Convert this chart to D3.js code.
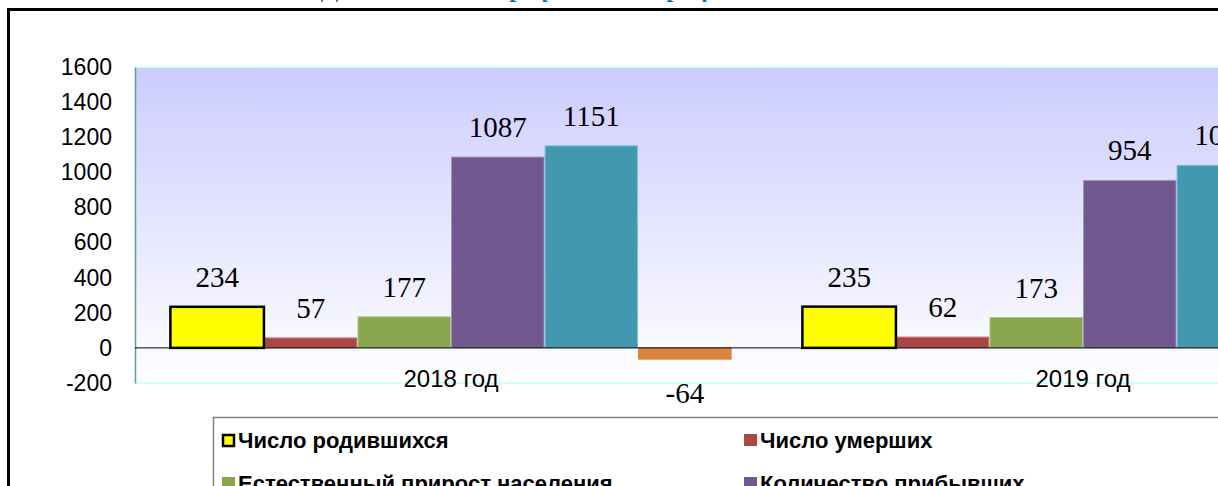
<!DOCTYPE html>
<html>
<head>
<meta charset="utf-8">
<script src="https://cdn.jsdelivr.net/npm/d3@7"></script>
<style>
  html, body { margin: 0; padding: 0; background: #fff; overflow: hidden; }
</style>
</head>
<body>
<div id="chart"></div>
<script>
const width = 1218;
const height = 486;

const years = ['2018 год', '2019 год'];
const seriesNames = [
  'Число родившихся',
  'Число умерших',
  'Естественный прирост населения',
  'Количество прибывших',
  'Количество выбывших',
  'Миграционный прирост'
];
const births = [234, 235];
const deaths = [57, 62];
const naturalGrowth = [177, 173];
const arrived = [1087, 954];
const departed = [1151, 1040];
const migration = [-64, -86];
const yTicks = [-200, 0, 200, 400, 600, 800, 1000, 1200, 1400, 1600];

const series = [births, deaths, naturalGrowth, arrived, departed, migration];
const fills = ['#ffff00', '#aa4643', '#89a54e', '#71588f', '#4198af', '#db843d'];
const strokes = ['#000000', '#c98a88', '#b2c78f', '#a592bd', '#86c1d1', '#db843d'];

const plotLeft = 135;
const plotTop = 67;
const plotBottom = 383;

const svg = d3.select('#chart')
  .append('svg')
    .attr('width', width)
    .attr('height', height);

const defs = svg.append('defs');
const grad = defs.append('linearGradient')
  .attr('id', 'bg')
  .attr('x1', 0).attr('y1', 0).attr('x2', 0).attr('y2', 1);
grad.append('stop').attr('offset', '0%').attr('stop-color', '#ccccff');
grad.append('stop').attr('offset', '100%').attr('stop-color', '#ffffff');

// title, mostly cut off at the top
svg.append('text')
  .attr('x', 545)
  .attr('y', -3)
  .attr('text-anchor', 'middle')
  .style('font-family', '"Liberation Serif", "Times New Roman", serif')
  .style('font-weight', 'bold')
  .style('font-style', 'italic')
  .style('font-size', '26px')
  .style('fill', '#0070c0')
  .text('Динамика демографических процессов');

// outer frame
svg.append('rect')
  .attr('x', 8.5).attr('y', 9.5)
  .attr('width', 1400).attr('height', 700)
  .attr('fill', '#fff')
  .attr('stroke', '#000')
  .attr('stroke-width', 3);

const y = d3.scaleLinear().domain([-200, 1600]).range([plotBottom, plotTop]);

const x0 = d3.scaleBand()
  .domain(years)
  .range([plotLeft, plotLeft + 1264])
  .paddingInner(0.112)
  .paddingOuter(0.056);

const x1 = d3.scaleBand()
  .domain(d3.range(series.length))
  .range([0, x0.bandwidth()]);

// plot area
svg.append('rect')
  .attr('x', plotLeft).attr('y', plotTop)
  .attr('width', width - plotLeft + 10).attr('height', plotBottom - plotTop)
  .attr('fill', 'url(#bg)');

svg.append('line')
  .attr('x1', plotLeft).attr('x2', width)
  .attr('y1', plotTop).attr('y2', plotTop)
  .attr('stroke', '#ccffff').attr('stroke-width', 2);
svg.append('line')
  .attr('x1', plotLeft).attr('x2', width)
  .attr('y1', plotBottom).attr('y2', plotBottom)
  .attr('stroke', '#ccffff').attr('stroke-width', 2);

// y axis
const axisLeft = d3.axisLeft(y)
  .tickValues(yTicks)
  .tickFormat(d => String(d))
  .tickSize(0)
  .tickPadding(23);
const yAxis = svg.append('g')
  .attr('transform', `translate(${plotLeft}, 0)`)
  .call(axisLeft);
yAxis.select('.domain').attr('stroke', '#5f9ea0').attr('stroke-width', 1.5);
yAxis.selectAll('text')
  .style('font-family', 'Arial, "Liberation Sans", sans-serif')
  .style('font-size', '23px')
  .style('fill', '#000');

// bars
const groups = svg.append('g')
  .selectAll('g')
  .data(years)
  .join('g')
    .attr('transform', d => `translate(${x0(d)}, 0)`);

groups.each(function(year, yi) {
  const g = d3.select(this);
  series.forEach((vals, si) => {
    if (si === 0) return;
    const v = vals[yi];
    g.append('rect')
      .attr('x', x1(si) + 0.5)
      .attr('y', y(Math.max(0, v)))
      .attr('width', x1.bandwidth() - 1)
      .attr('height', Math.abs(y(v) - y(0)))
      .attr('fill', fills[si])
      .attr('stroke', strokes[si])
      .attr('stroke-width', 1);
  });
});

// zero line
svg.append('line')
  .attr('x1', plotLeft).attr('x2', width)
  .attr('y1', y(0)).attr('y2', y(0))
  .attr('stroke', '#000').attr('stroke-width', 1);

// yellow bars drawn above zero line
groups.each(function(year, yi) {
  d3.select(this).append('rect')
    .attr('x', x1(0))
    .attr('y', y(births[yi]))
    .attr('width', x1.bandwidth())
    .attr('height', y(0) - y(births[yi]))
    .attr('fill', fills[0])
    .attr('stroke', '#000')
    .attr('stroke-width', 2.5);
});

// value labels
groups.each(function(year, yi) {
  const g = d3.select(this);
  series.forEach((vals, si) => {
    const v = vals[yi];
    g.append('text')
      .attr('x', x1(si) + x1.bandwidth() / 2)
      .attr('y', v >= 0 ? y(v) - 20 : y(v) + 44)
      .attr('text-anchor', 'middle')
      .style('font-family', '"Liberation Serif", "Times New Roman", serif')
      .style('font-size', '29px')
      .style('fill', '#000')
      .text(v);
  });
});

// category labels
svg.append('g')
  .selectAll('text')
  .data(years)
  .join('text')
    .attr('x', d => x0(d) + x0.bandwidth() / 2)
    .attr('y', 387)
    .attr('text-anchor', 'middle')
    .style('font-family', 'Arial, "Liberation Sans", sans-serif')
    .style('font-size', '24px')
    .style('fill', '#000')
    .text(d => d);

// legend
const legend = svg.append('g');
legend.append('rect')
  .attr('x', 213.5).attr('y', 417.5)
  .attr('width', 1100).attr('height', 200)
  .attr('fill', '#fff')
  .attr('stroke', '#808080')
  .attr('stroke-width', 1.5);

const colX = [222, 744];
seriesNames.forEach((name, i) => {
  const cx = colX[i % 2];
  const ry = 434 + Math.floor(i / 2) * 43;
  const item = legend.append('g');
  item.append('rect')
    .attr('x', i === 0 ? cx + 1 : cx)
    .attr('y', i === 0 ? ry + 1 : ry)
    .attr('width', i === 0 ? 11 : 13)
    .attr('height', i === 0 ? 11 : 12)
    .attr('fill', fills[i])
    .attr('stroke', i === 0 ? '#000' : 'none')
    .attr('stroke-width', 2.5);
  item.append('text')
    .attr('x', cx + 16)
    .attr('y', ry + 14)
    .style('font-family', 'Arial, "Liberation Sans", sans-serif')
    .style('font-weight', 'bold')
    .style('font-size', '22px')
    .style('fill', '#000')
    .text(name);
});
</script>
</body>
</html>
